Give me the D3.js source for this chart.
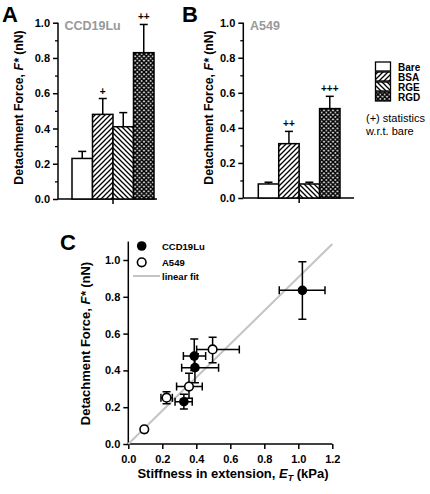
<!DOCTYPE html>
<html><head><meta charset="utf-8">
<script src="https://cdn.jsdelivr.net/npm/d3@7"></script>
<style>
body{margin:0;background:#fff;}
svg{display:block;font-family:Arial,"Liberation Sans",sans-serif;}
</style></head>
<body>
<svg id="c" width="430" height="494"></svg>
<script>
// ---- data ----
const categories = ["Bare","BSA","RGE","RGD"];
const ccdMeans = [0.23, 0.48, 0.41, 0.83];
const ccdErrTop = [0.27, 0.57, 0.49, 0.99];
const ccdStars = ["", "+", "", "++"];
const a549Means = [0.08, 0.31, 0.08, 0.51];
const a549ErrTop = [0.09, 0.38, 0.09, 0.58];
const a549Stars = ["", "++", "", "+++"];
const yTicksBar = [0, 0.2, 0.4, 0.6, 0.8, 1.0];
const xTicksC = [0, 0.2, 0.4, 0.6, 0.8, 1.0, 1.2];
const yTicksC = [0, 0.2, 0.4, 0.6, 0.8, 1.0];
// scatter: stiffness x, xerr low/high, force y, yerr low/high
const ccdX = [0.327, 0.388, 0.392, 1.024];
const ccdXLo = [0.275, 0.324, 0.314, 0.888];
const ccdXHi = [0.376, 0.455, 0.531, 1.157];
const ccdY = [0.23, 0.478, 0.415, 0.835];
const ccdYLo = [0.19, 0.40, 0.333, 0.678];
const ccdYHi = [0.27, 0.571, 0.49, 0.99];
const aX = [0.094, 0.225, 0.357, 0.496];
const aXLo = [0.08, 0.192, 0.284, 0.402];
const aXHi = [0.108, 0.259, 0.435, 0.653];
const aY = [0.08, 0.252, 0.312, 0.514];
const aYLo = [0.07, 0.219, 0.248, 0.442];
const aYHi = [0.09, 0.284, 0.384, 0.58];
const fitSlope = 0.906;
const fitX = [0, 1.2];

const svg = d3.select("#c");
const defs = svg.append("defs");
// patterns
const p1 = defs.append("pattern").attr("id","bsa").attr("patternUnits","userSpaceOnUse").attr("width",5).attr("height",5);
p1.append("rect").attr("width",5).attr("height",5).attr("fill","#fff");
p1.append("path").attr("d","M-1,1 l2,-2 M0,5 l5,-5 M4,6 l2,-2").attr("stroke","#000").attr("stroke-width",1.3);
const p2 = defs.append("pattern").attr("id","rge").attr("patternUnits","userSpaceOnUse").attr("width",5).attr("height",5);
p2.append("rect").attr("width",5).attr("height",5).attr("fill","#fff");
p2.append("path").attr("d","M-1,4 l2,2 M0,0 l5,5 M4,-1 l2,2").attr("stroke","#000").attr("stroke-width",1.3);
const p3 = defs.append("pattern").attr("id","rgd").attr("patternUnits","userSpaceOnUse").attr("width",4.5).attr("height",4.5);
p3.append("rect").attr("width",4.5).attr("height",4.5).attr("fill","#fff");
p3.append("path").attr("d","M0,0 L4.5,4.5 M4.5,0 L0,4.5 M-1,1 l2,-2 M3.5,5.5 l2,-2 M-1,3.5 l2,2 M3.5,-1 l2,2").attr("stroke","#000").attr("stroke-width",1.6);
const fills = {Bare:"#fff", BSA:"url(#bsa)", RGE:"url(#rge)", RGD:"url(#rgd)"};

function barPanel(cfg){
  const g = svg.append("g");
  const y = d3.scaleLinear().domain([0,1]).range([cfg.y0, cfg.y1]);
  const x = d3.scaleBand().domain(categories).range([cfg.bx0, cfg.bx1]).padding(0);
  // y axis
  const ax = g.append("g").attr("transform",`translate(${cfg.ax},0)`)
    .call(d3.axisLeft(y).tickValues(yTicksBar).tickFormat(d3.format(".1f")).tickSize(5).tickPadding(3));
  ax.select(".domain").attr("d",`M0,${cfg.y0}V${cfg.y1}`).attr("stroke-width",1.5);
  ax.selectAll(".tick line").attr("stroke-width",1.5);
  ax.selectAll(".tick text").attr("font-size",11).attr("font-weight","bold").attr("font-family","Arial,'Liberation Sans',sans-serif");
  g.append("g").attr("transform",`translate(${cfg.ax},0)`)
    .call(d3.axisLeft(y).tickValues([0.1,0.3,0.5,0.7,0.9]).tickFormat("").tickSize(3))
    .call(s=>{s.select(".domain").remove(); s.selectAll("line").attr("stroke-width",1.3);});
  // baseline
  g.append("line").attr("x1",cfg.ax).attr("x2",cfg.axEnd).attr("y1",cfg.y0).attr("y2",cfg.y0).attr("stroke","#000").attr("stroke-width",1.5);
  g.append("line").attr("x1",x("RGE")).attr("x2",x("RGE")).attr("y1",cfg.y0).attr("y2",cfg.y0+5).attr("stroke","#000").attr("stroke-width",1.5);
  // error bars
  categories.forEach((c,i)=>{
    const cx = x(c)+x.bandwidth()/2;
    g.append("line").attr("x1",cx).attr("x2",cx).attr("y1",y(cfg.means[i])).attr("y2",y(cfg.err[i])).attr("stroke","#000").attr("stroke-width",1.5);
    g.append("line").attr("x1",cx-4).attr("x2",cx+4).attr("y1",y(cfg.err[i])).attr("y2",y(cfg.err[i])).attr("stroke","#000").attr("stroke-width",1.5);
    if(cfg.stars[i]) g.append("text").attr("x",cx).attr("y",y(cfg.err[i])-4).attr("text-anchor","middle")
      .attr("font-size",10).attr("font-weight","bold").attr("fill","#000").text(cfg.stars[i]);
  });
  g.selectAll("rect.bar").data(categories).join("rect").attr("class","bar")
    .attr("x",d=>x(d)).attr("width",x.bandwidth())
    .attr("y",(d,i)=>y(cfg.means[i])).attr("height",(d,i)=>y(0)-y(cfg.means[i]))
    .attr("fill",d=>fills[d]).attr("stroke","#000").attr("stroke-width",1.5);
  // title
  g.append("text").attr("x",cfg.gx).attr("y",30).attr("fill","#999").attr("font-size",12.5).attr("font-weight","bold").text(cfg.name);
  g.append("text").attr("x",cfg.lx).attr("y",21.5).attr("font-size",22).attr("font-weight","bold").text(cfg.letter);
  g.append("text").attr("transform",`translate(${cfg.ylx},107.5) rotate(-90)`).attr("text-anchor","middle")
    .attr("font-size",12.3).attr("font-weight","bold")
    .call(t=>{t.append("tspan").text("Detachment Force, ");t.append("tspan").attr("font-style","italic").text("F*");t.append("tspan").text(" (nN)");});
}
barPanel({y0:199,y1:22.7,bx0:72,bx1:154,ax:58,axEnd:157,means:ccdMeans,err:ccdErrTop,stars:ccdStars,name:"CCD19Lu",gx:64.5,letter:"A",lx:2,ylx:22.5});
barPanel({y0:198,y1:22.7,bx0:258.3,bx1:340,ax:243.3,axEnd:354,means:a549Means,err:a549ErrTop,stars:a549Stars,name:"A549",gx:250,letter:"B",lx:182,ylx:212.5});

// legend
const lg = svg.append("g");
categories.forEach((c,i)=>{
  const yy = 62 + i*10;
  lg.append("rect").attr("x",375.5).attr("y",yy).attr("width",15).attr("height",9).attr("fill",fills[c]).attr("stroke","#000").attr("stroke-width",1.3);
  lg.append("text").attr("x",398).attr("y",yy+8.5).attr("font-size",10).attr("font-weight","bold").text(c);
});
lg.append("text").attr("x",366).attr("y",122).attr("font-size",11).text("(+) statistics");
lg.append("text").attr("x",366).attr("y",134.5).attr("font-size",11).text("w.r.t. bare");

// Panel C
const gc = svg.append("g");
const xs = d3.scaleLinear().domain([0,1.2]).range([128.3,332.3]);
const ys = d3.scaleLinear().domain([0,1]).range([444,260]);
const axC = gc.append("g").attr("transform","translate(0,444)")
  .call(d3.axisBottom(xs).tickValues(xTicksC).tickFormat(d3.format(".1f")).tickSize(5).tickPadding(6));
const ayC = gc.append("g").attr("transform","translate(128.3,0)")
  .call(d3.axisLeft(ys).tickValues(yTicksC).tickFormat(d3.format(".1f")).tickSize(5).tickPadding(3));
ayC.select(".domain").attr("d",`M0,444V${ys(1.1)}`);
axC.select(".domain").attr("d",`M${xs(0)},0H${xs(1.2)}`);
[axC,ayC].forEach(a=>{
  a.selectAll(".domain,.tick line").attr("stroke-width",1.5);
  a.selectAll(".tick text").attr("font-size",11).attr("font-weight","bold").attr("font-family","Arial,'Liberation Sans',sans-serif");
});
// fit line
gc.append("line").attr("x1",xs(fitX[0])).attr("y1",ys(fitX[0]*fitSlope)).attr("x2",xs(fitX[1])).attr("y2",ys(fitX[1]*fitSlope))
  .attr("stroke","#c4c4c4").attr("stroke-width",2);
function errs(X,XL,XH,Y,YL,YH){
  X.forEach((xv,i)=>{
    const c = 4;
    const px = xs(xv), py = ys(Y[i]);
    gc.append("path").attr("d",
      `M${xs(XL[i])},${py}H${xs(XH[i])}M${xs(XL[i])},${py-c}V${py+c}M${xs(XH[i])},${py-c}V${py+c}`+
      `M${px},${ys(YL[i])}V${ys(YH[i])}M${px-c},${ys(YL[i])}H${px+c}M${px-c},${ys(YH[i])}H${px+c}`)
      .attr("stroke","#000").attr("stroke-width",1.5).attr("fill","none");
  });
}
errs(ccdX,ccdXLo,ccdXHi,ccdY,ccdYLo,ccdYHi);
errs(aX,aXLo,aXHi,aY,aYLo,aYHi);
gc.selectAll("circle.ccd").data(ccdX).join("circle").attr("class","ccd")
  .attr("cx",d=>xs(d)).attr("cy",(d,i)=>ys(ccdY[i])).attr("r",4.8).attr("fill","#000");
gc.selectAll("circle.a549").data(aX).join("circle").attr("class","a549")
  .attr("cx",d=>xs(d)).attr("cy",(d,i)=>ys(aY[i])).attr("r",4.3).attr("fill","#fff").attr("stroke","#000").attr("stroke-width",1.6);
// legend C
gc.append("circle").attr("cx",141.7).attr("cy",246).attr("r",4.8).attr("fill","#000");
gc.append("circle").attr("cx",141.7).attr("cy",262.3).attr("r",4.3).attr("fill","#fff").attr("stroke","#000").attr("stroke-width",1.6);
gc.append("line").attr("x1",133).attr("x2",160).attr("y1",276).attr("y2",276).attr("stroke","#c4c4c4").attr("stroke-width",2);
[["CCD19Lu",246],["A549",262.3],["linear fit",276]].forEach(([t,yy])=>
  gc.append("text").attr("x",162).attr("y",yy+3.5).attr("font-size",9.5).attr("font-weight","bold").text(t));
gc.append("text").attr("x",60).attr("y",250).attr("font-size",22).attr("font-weight","bold").text("C");
gc.append("text").attr("transform","translate(90,343.5) rotate(-90)").attr("text-anchor","middle")
  .attr("font-size",13).attr("font-weight","bold")
  .call(t=>{t.append("tspan").text("Detachment Force, ");t.append("tspan").attr("font-style","italic").text("F*");t.append("tspan").text("  (nN)");});
gc.append("text").attr("x",233).attr("y",478).attr("text-anchor","middle").attr("font-size",13).attr("font-weight","bold")
  .call(t=>{t.append("tspan").text("Stiffness in extension, ");t.append("tspan").attr("font-style","italic").text("E");
    t.append("tspan").attr("font-style","italic").attr("font-size",9).attr("dy",3).text("T");t.append("tspan").attr("dy",-3).text(" (kPa)");});
</script>
</body></html>
